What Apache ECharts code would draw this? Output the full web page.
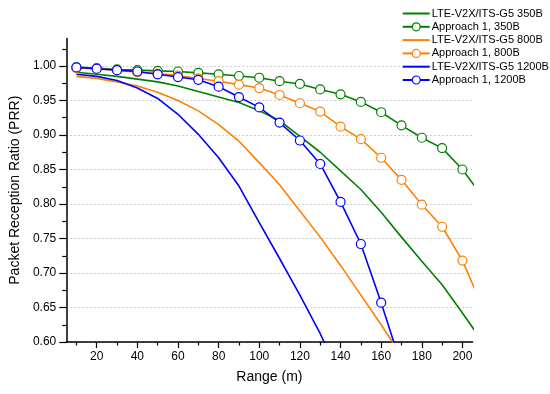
<!DOCTYPE html>
<html>
<head>
<meta charset="utf-8">
<script src="https://cdn.jsdelivr.net/npm/echarts@6/dist/echarts.min.js"></script>
<style>
html,body{margin:0;padding:0;background:#fff;}
#chart{width:550px;height:394px;}
</style>
</head>
<body>
<div id="chart"></div>
<script>
// Data
const rangeM = [10,20,30,40,50,60,70,80,90,100,110,120,130,140,150,160,170,180,190,200,210];
const lte350  = [0.991,0.988,0.985,0.981,0.977,0.971,0.963,0.955,0.947,0.935,0.921,0.898,0.875,0.848,0.821,0.788,0.752,0.717,0.683,0.642,0.600];
const app350  = [0.998,0.997,0.995,0.994,0.993,0.992,0.990,0.988,0.9855,0.983,0.978,0.974,0.966,0.959,0.948,0.933,0.914,0.896,0.881,0.850,0.810];
const lte800  = [0.985,0.982,0.977,0.971,0.962,0.950,0.935,0.915,0.891,0.860,0.828,0.790,0.752,0.711,0.668,0.625,0.580];
const app800  = [0.997,0.996,0.994,0.991,0.989,0.986,0.982,0.978,0.973,0.968,0.958,0.946,0.934,0.912,0.894,0.867,0.835,0.799,0.767,0.718,0.650];
const lte1200 = [0.988,0.985,0.979,0.968,0.953,0.930,0.901,0.867,0.826,0.773,0.721,0.668,0.612,0.550];
const app1200 = [0.998,0.996,0.994,0.992,0.988,0.984,0.980,0.970,0.955,0.940,0.918,0.892,0.858,0.803,0.742,0.657,0.565];

const xMajor = [20,40,60,80,100,120,140,160,180,200];
const xMinor = [10,30,50,70,90,110,130,150,170,190];
const yMajor = [0.60,0.65,0.70,0.75,0.80,0.85,0.90,0.95,1.00];
const yMinor = [0.625,0.675,0.725,0.775,0.825,0.875,0.925,0.975,1.025];

const names = ['LTE-V2X/ITS-G5 350B','Approach 1, 350B','LTE-V2X/ITS-G5 800B','Approach 1, 800B','LTE-V2X/ITS-G5 1200B','Approach 1, 1200B'];
const colors = ['#008000','#008000','#FF8000','#FF8000','#0000FF','#0000FF'];
const values = [lte350, app350, lte800, app800, lte1200, app1200];
const withMarker = [false,true,false,true,false,true];

const FONT = '"Liberation Sans", Arial, sans-serif';

function zip(ys){ return ys.map((v,i)=>[rangeM[i], v]); }

const series = names.map((n,i)=>({
  name: n,
  type: 'line',
  xAxisIndex: 0,
  yAxisIndex: 0,
  data: zip(values[i]),
  clip: true,
  color: colors[i],
  lineStyle: {width: 1.6, color: colors[i]},
  symbol: withMarker[i] ? 'circle' : 'none',
  symbolSize: 9,
  showAllSymbol: true,
  itemStyle: {color: '#fff', borderColor: colors[i], borderWidth: 1.2},
  emphasis: {disabled: true},
  animation: false,
  z: 2 + i
}));

const chart = echarts.init(document.getElementById('chart'), null, {renderer: 'canvas'});
chart.setOption({
  backgroundColor: '#fff',
  animation: false,
  grid: {left: 61, right: 77.4, top: 38.4, bottom: 52},
  legend: {
    orient: 'vertical',
    left: 396.7, top: 3,
    itemWidth: 27, itemHeight: 10, itemGap: 2.3,
    textStyle: {fontFamily: FONT, fontSize: 11, color: '#000', padding: [0,0,0,-3]},
    data: names.map((n,i)=>({
      name: n,
      itemStyle: withMarker[i]
        ? {color: '#fff', borderColor: colors[i], borderWidth: 1.2}
        : {color: 'rgba(0,0,0,0)', borderColor: 'rgba(0,0,0,0)', borderWidth: 0},
      lineStyle: {color: colors[i], width: 2}
    }))
  },
  xAxis: [{
    type: 'value', min: 5, max: 205,
    name: 'Range (m)', nameLocation: 'middle', nameGap: 28,
    nameTextStyle: {fontFamily: FONT, fontSize: 14, color: '#000'},
    axisLine: {show: true, lineStyle: {color: '#000', width: 1.5}},
    axisTick: {show: true, customValues: xMajor, length: 6, lineStyle: {color: '#000', width: 1.2}},
    axisLabel: {customValues: xMajor, fontFamily: FONT, fontSize: 12, color: '#000', margin: 9},
    splitLine: {show: false}
  },{
    type: 'value', min: 5, max: 205, position: 'bottom',
    axisLine: {show: false},
    axisTick: {show: true, customValues: xMinor, length: 3.5, lineStyle: {color: '#000', width: 1.2}},
    axisLabel: {show: false},
    splitLine: {show: false}
  }],
  yAxis: [{
    type: 'value', min: 0.6, max: 1.04,
    name: 'Packet Reception Ratio (PRR)', nameLocation: 'middle', nameGap: 40,
    nameTextStyle: {fontFamily: FONT, fontSize: 14, color: '#000'},
    axisLine: {show: true, lineStyle: {color: '#000', width: 1.5}},
    axisTick: {show: true, customValues: yMajor, length: 7, lineStyle: {color: '#000', width: 1.2}},
    axisLabel: {customValues: yMajor, fontFamily: FONT, fontSize: 12, color: '#000', margin: 10,
      formatter: v => v.toFixed(2)},
    splitLine: {show: true, lineStyle: {color: '#cccccc', type: [2,2], width: 1}}
  },{
    type: 'value', min: 0.6, max: 1.04, position: 'left',
    axisLine: {show: false},
    axisTick: {show: true, customValues: yMinor, length: 4, lineStyle: {color: '#000', width: 1.2}},
    axisLabel: {show: false},
    splitLine: {show: false}
  }],
  series: series
});
</script>
</body>
</html>
